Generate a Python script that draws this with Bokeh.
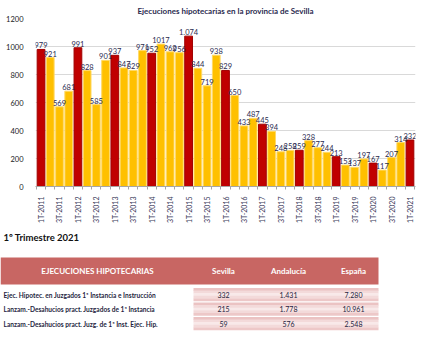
from bokeh.plotting import figure
from bokeh.layouts import column
from bokeh.models import ColumnDataSource, Range1d, FixedTicker
from bokeh.core.properties import value
from bokeh.embed import file_html
from bokeh.resources import INLINE

# ---- data ----
quarters = [
    "1T-2011", "2T-2011", "3T-2011", "4T-2011",
    "1T-2012", "2T-2012", "3T-2012", "4T-2012",
    "1T-2013", "2T-2013", "3T-2013", "4T-2013",
    "1T-2014", "2T-2014", "3T-2014", "4T-2014",
    "1T-2015", "2T-2015", "3T-2015", "4T-2015",
    "1T-2016", "2T-2016", "3T-2016", "4T-2016",
    "1T-2017", "2T-2017", "3T-2017", "4T-2017",
    "1T-2018", "2T-2018", "3T-2018", "4T-2018",
    "1T-2019", "2T-2019", "3T-2019", "4T-2019",
    "1T-2020", "2T-2020", "3T-2020", "4T-2020",
    "1T-2021",
]
ejecuciones = [
    979, 921, 569, 681,
    991, 828, 585, 901,
    937, 847, 829, 971,
    952, 1017, 962, 956,
    1074, 844, 719, 938,
    829, 650, 433, 487,
    445, 394, 248, 258,
    259, 328, 277, 244,
    213, 153, 137, 197,
    167, 117, 207, 314,
    332,
]
y_ticks = [0, 200, 400, 600, 800, 1000, 1200]

table_title = "1º Trimestre 2021"
table_columns = ["EJECUCIONES HIPOTECARIAS", "Sevilla", "Andalucía", "España"]
table_rows = [
    "Ejec. Hipotec. en Juzgados 1ª Instancia e Instrucción",
    "Lanzam.-Desahucios pract. Juzgados de 1ª Instancia",
    "Lanzam.-Desahucios pract. Juzg. de 1ª Inst. Ejec. Hip.",
]
sevilla = [332, 215, 59]
andalucia = [1431, 1778, 576]
espana = [7280, 10961, 2548]

FONT = "Lato"
NAVY = "#2B2B4F"
RED = "#C00000"
YELLOW = "#FFC000"


def fmt(n):
    return "{:,}".format(n).replace(",", ".")


def lab(n):
    return fmt(n) if n >= 1000 and n != 1017 else str(n)

# ---- chart ----
idx = list(range(len(quarters)))
colors = [RED if q.startswith("1T") else YELLOW for q in quarters]
lines = ["#A00000" if q.startswith("1T") else "#FFD966" for q in quarters]
src = ColumnDataSource(dict(x=idx, v=ejecuciones, c=colors, lc=lines,
                            t=[lab(v) for v in ejecuciones]))

p = figure(width=425, height=226, output_backend="svg", toolbar_location=None,
           x_range=Range1d(-0.6, len(quarters) - 0.4), y_range=Range1d(0, 1200),
           min_border_left=35, min_border_right=10, min_border_top=4,
           min_border_bottom=0)
p.frame_align = False
p.title.text = "Ejecuciones hipotecarias en la provincia de Sevilla"
p.title.align = "center"
p.title.text_font = FONT
p.title.text_font_size = "8px"
p.title.text_color = NAVY
p.title.text_font_style = "bold"
p.title.standoff = 6
p.outline_line_color = None

p.vbar(x="x", top="v", width=0.84, fill_color="c", line_color="lc",
       line_width=1, source=src)
p.text(x="x", y="v", text="t", source=src, text_align="center",
       text_baseline="bottom", y_offset=-1, text_font=value(FONT),
       text_font_size="7.5px", text_color=NAVY)

p.yaxis.ticker = FixedTicker(ticks=y_ticks)
p.yaxis.axis_line_color = None
p.yaxis.major_tick_line_color = None
p.yaxis.minor_tick_line_color = None
p.yaxis.major_label_text_font = FONT
p.yaxis.major_label_text_font_size = "7.5px"
p.yaxis.major_label_text_color = "#222222"
p.yaxis.major_label_standoff = 6

p.xaxis.ticker = FixedTicker(ticks=idx[::2],
                             minor_ticks=[i - 0.5 for i in range(len(quarters) + 1)])
p.xaxis.major_label_overrides = {i: quarters[i] for i in idx}
p.xaxis.major_label_orientation = 1.5708
p.xaxis.major_label_text_font = FONT
p.xaxis.major_label_text_font_size = "7px"
p.xaxis.major_label_text_color = "#3A3A5A"
p.xaxis.major_tick_line_color = None
p.xaxis.minor_tick_line_color = "#A6A6A6"
p.xaxis.minor_tick_in = 0
p.xaxis.minor_tick_out = 3
p.xaxis.axis_line_color = "#A6A6A6"
p.xaxis.major_label_standoff = 4
p.xgrid.grid_line_color = None
p.ygrid.grid_line_color = "#D9D9D9"

# ---- table ----
t = figure(width=425, height=113, output_backend="svg", toolbar_location=None,
           x_range=Range1d(0, 425), y_range=Range1d(113, 0),
           x_axis_location=None, y_axis_location=None,
           min_border=0, min_border_left=0, min_border_right=0,
           min_border_top=0, min_border_bottom=0)
t.frame_align = False
t.grid.visible = False
t.outline_line_color = None

t.text(x=[3], y=[11], text=[table_title], text_font=value(FONT),
       text_font_size="9.5px", text_font_style="bold", text_color="#111111",
       text_baseline="middle")

# header band
t.quad(left=[0], right=[378], top=[31], bottom=[58], fill_color="#C86663",
       line_color=None)
col_x = [97, 223, 288, 353]
t.text(x=col_x, y=[44.5] * 4, text=table_columns, text_font=value(FONT),
       text_font_size="8px", text_font_style="bold", text_color="white",
       text_align="center", text_baseline="middle")

row_y = [68, 82.5, 97]
# cell backgrounds (simulated vertical gradient)
shades = ["#EBC3C3", "#F3DADA", "#F8E9E9", "#F3DADA", "#EDC8C8"]
for ry in row_y:
    h = 13.0 / len(shades)
    for k, sh in enumerate(shades):
        top = ry - 6.5 + k * h
        t.quad(left=[193], right=[378], top=[top], bottom=[top + h + 0.3],
               fill_color=sh, line_color=None)

t.text(x=[3] * 3, y=row_y, text=table_rows, text_font=value(FONT),
       text_font_size="6.6px", text_font_style="bold", text_color="#1F1F3F",
       text_baseline="middle")
for cx, vals in zip(col_x[1:], [sevilla, andalucia, espana]):
    t.text(x=[cx] * 3, y=row_y, text=[fmt(v) for v in vals],
           text_font=value(FONT), text_font_size="7px", text_color="#1F1F3F",
           text_align="center", text_baseline="middle")

layout = column(p, t, spacing=0)
open("out.html", "w").write(file_html(layout, INLINE))
